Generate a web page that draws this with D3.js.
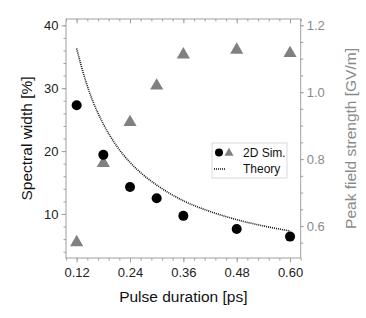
<!DOCTYPE html>
<html><head><meta charset="utf-8">
<script src="https://cdn.jsdelivr.net/npm/d3@7"></script>
<style>body{margin:0;background:#fff}svg{display:block}text{font-family:"Liberation Sans",Arial,sans-serif}</style>
</head><body>
<script>
const pulse = [0.12, 0.18, 0.24, 0.30, 0.36, 0.48, 0.60];
const spectralWidth = [27.3, 19.4, 14.3, 12.5, 9.7, 7.6, 6.4];
const peakField = [0.551, 0.788, 0.910, 1.019, 1.112, 1.126, 1.116];
const theoryX = [0.12, 0.14, 0.16, 0.18, 0.21, 0.24, 0.27, 0.30, 0.36, 0.42, 0.48, 0.54, 0.60];
const theoryY = [36.3, 31.2, 27.3, 24.3, 20.8, 18.2, 16.2, 14.6, 12.1, 10.4, 9.1, 8.1, 7.3];
const xTicks = [0.12, 0.24, 0.36, 0.48, 0.60];
const yTicks = [10, 20, 30, 40];
const y2Ticks = [0.6, 0.8, 1.0, 1.2];

const W = 366, H = 318;
const m = {l: 66, t: 19, r: 300.7, b: 258};
const svg = d3.select("body").append("svg").attr("width", W).attr("height", H);
const x = d3.scaleLinear().domain([0.096, 0.624]).range([m.l, m.r]);
const y = d3.scaleLinear().domain([3, 41]).range([m.b, m.t]);
const y2 = d3.scaleLinear().domain([0.5045, 1.2185]).range([m.b, m.t]);
const gray = "#8a8a8a", frame = "#a0a0a0";

svg.append("rect").attr("x", m.l).attr("y", m.t).attr("width", m.r - m.l).attr("height", m.b - m.t)
  .attr("fill", "none").attr("stroke", frame).attr("stroke-width", 1);

function styleAxis(g, col) {
  g.select(".domain").remove();
  g.selectAll(".tick line").attr("stroke", frame);
  g.selectAll(".tick text").attr("fill", col).style("font-size", "13px").style("font-family", '"Liberation Sans",Arial,sans-serif');
}
const xMinor = d3.range(0, 23).map(i => 0.096 + i * 0.024);
const yMinor = d3.range(4, 41, 2);
const y2Minor = d3.range(0, 15).map(i => 0.5 + i * 0.05).filter(v => v >= 0.505 && v <= 1.218);

// bottom (outward)
svg.append("g").attr("transform", `translate(0,${m.b})`)
  .call(d3.axisBottom(x).tickValues(xMinor).tickSize(2.5).tickFormat("")).call(g => styleAxis(g, "#000"));
svg.append("g").attr("transform", `translate(0,${m.b})`)
  .call(d3.axisBottom(x).tickValues(xTicks).tickSize(4.5).tickPadding(5.5).tickFormat(d3.format(".2f")))
  .call(g => styleAxis(g, "#222"));
// top (inward)
svg.append("g").attr("transform", `translate(0,${m.t})`)
  .call(d3.axisTop(x).tickValues(xMinor).tickSize(-2.5).tickFormat("")).call(g => styleAxis(g, "#000"));
svg.append("g").attr("transform", `translate(0,${m.t})`)
  .call(d3.axisTop(x).tickValues(xTicks).tickSize(-4.5).tickFormat("")).call(g => styleAxis(g, "#000"));
// left (outward)
svg.append("g").attr("transform", `translate(${m.l},0)`)
  .call(d3.axisLeft(y).tickValues(yMinor).tickSize(2.5).tickFormat("")).call(g => styleAxis(g, "#000"));
svg.append("g").attr("transform", `translate(${m.l},0)`)
  .call(d3.axisLeft(y).tickValues(yTicks).tickSize(4.5).tickPadding(3).tickFormat(d3.format("d")))
  .call(g => styleAxis(g, "#222"));
// right (outward)
svg.append("g").attr("transform", `translate(${m.r},0)`)
  .call(d3.axisRight(y2).tickValues(y2Minor).tickSize(2.5).tickFormat("")).call(g => styleAxis(g, gray));
svg.append("g").attr("transform", `translate(${m.r},0)`)
  .call(d3.axisRight(y2).tickValues(y2Ticks).tickSize(3).tickPadding(3).tickFormat(d3.format(".1f")))
  .call(g => styleAxis(g, gray));

// titles
svg.append("text").attr("x", (m.l + m.r) / 2).attr("y", 302).attr("text-anchor", "middle")
  .style("font-size", "15.5px").attr("fill", "#111").text("Pulse duration [ps]");
svg.append("text").attr("transform", `translate(32,${(m.t + m.b) / 2}) rotate(-90)`).attr("text-anchor", "middle")
  .style("font-size", "15.5px").attr("fill", "#111").text("Spectral width [%]");
svg.append("text").attr("transform", `translate(356,${(m.t + m.b) / 2}) rotate(-90)`).attr("text-anchor", "middle")
  .style("font-size", "15.5px").attr("fill", gray).text("Peak field strength [GV/m]");

// theory
const line = d3.line().x(d => x(d[0])).y(d => y(d[1])).curve(d3.curveMonotoneX);
svg.append("path").datum(theoryX.map((v, i) => [v, theoryY[i]])).attr("d", line)
  .attr("fill", "none").attr("stroke", "#111").attr("stroke-width", 1.6).attr("stroke-dasharray", "1,1");

// triangles
const tri = d3.symbol().type(d3.symbolTriangle).size(75);
svg.append("g").selectAll("path").data(pulse).join("path")
  .attr("d", tri).attr("transform", (d, i) => `translate(${x(d)},${y2(peakField[i])})`).attr("fill", "#808080");
// circles
svg.append("g").selectAll("circle").data(pulse).join("circle")
  .attr("cx", d => x(d)).attr("cy", (d, i) => y(spectralWidth[i])).attr("r", 5).attr("fill", "#000");

// legend
const lg = svg.append("g");
lg.append("rect").attr("x", 212).attr("y", 143).attr("width", 75).attr("height", 35)
  .attr("fill", "#fff").attr("stroke", "#d0d0d0").attr("stroke-width", 0.8);
lg.append("circle").attr("cx", 219).attr("cy", 152.5).attr("r", 4).attr("fill", "#000");
lg.append("path").attr("d", d3.symbol().type(d3.symbolTriangle).size(36)).attr("transform", "translate(229,153)").attr("fill", "#808080");
lg.append("text").attr("x", 243).attr("y", 156.5).style("font-size", "12px").attr("fill", "#111").text("2D Sim.");
lg.append("line").attr("x1", 214).attr("x2", 226).attr("y1", 169).attr("y2", 169)
  .attr("stroke", "#111").attr("stroke-width", 1.4).attr("stroke-dasharray", "1,1");
lg.append("text").attr("x", 243).attr("y", 173).style("font-size", "12px").attr("fill", "#111").text("Theory");
</script>
</body></html>
